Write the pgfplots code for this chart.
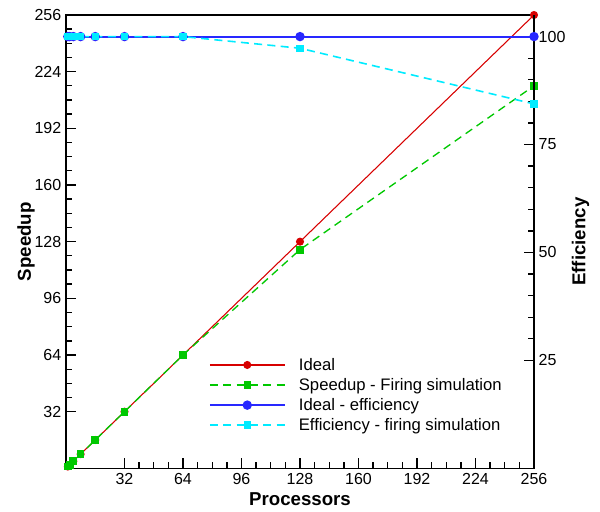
\documentclass[border=0pt]{standalone}
\usepackage{fontspec}
\setmainfont{Liberation Sans}
\usepackage{pgfplots}
\pgfplotsset{compat=1.18}
\definecolor{idealred}{RGB}{215,0,0}
\definecolor{simgreen}{RGB}{0,200,0}
\definecolor{effblue}{RGB}{40,40,255}
\definecolor{effcyan}{RGB}{0,235,255}

% speedup data
\pgfplotstableread{
p ideal sim
1 1 1
2 2 2
4 4 4
8 8 8
16 16 16
32 32 32
64 64 64
128 128 123.5
256 256 216
}\speeduptab
% efficiency data
\pgfplotstableread{
p ideal sim
1 100 100
2 100 100
4 100 100
8 100 100
16 100 100
32 100 100
64 100 100
128 100 97.3
256 100 84.4
}\efftab

\pgfplotsset{
  common/.style={
    scale only axis, width=351pt, height=340pt,
    xmin=0, xmax=256,
    tick align=inside,
    major tick length=7.5pt, minor tick length=4.5pt,
    every tick/.style={black, line width=1pt},
    tick label style={font=\fontsize{12}{14}\selectfont},
    label style={font=\fontsize{14}{16}\selectfont\bfseries},
    /pgf/number format/assume math mode=true,
  },
  legline/.style={
    legend image code/.code={
      \draw[mark repeat=2, mark phase=2, ##1]
        plot coordinates {(0pt,0pt) (28pt,0pt) (56pt,0pt)};
    }
  },
}

\begin{document}
\begin{tikzpicture}
\begin{axis}[
  common, name=main,
  ymin=0, ymax=256,
  xtick={32,64,...,256}, ytick={32,64,...,256},
  minor x tick num=3, minor y tick num=3,
  xtick pos=bottom, ytick pos=left,
  axis line style={black, line width=0.8pt},
  xlabel={Processors}, ylabel={Speedup},
  xlabel style={yshift=1pt},
  ylabel style={yshift=-7pt},
]
\addplot[idealred, line width=0.8pt, mark=*, mark size=2.6pt] table[x=p, y=ideal] {\speeduptab};
\addplot[simgreen, line width=1pt, dash pattern=on 6pt off 4pt, mark=square*, mark size=2.4pt,
  mark options={solid}] table[x=p, y=sim] {\speeduptab};
\end{axis}

\begin{axis}[
  common,
  ymin=0, ymax=105,
  axis x line=none, axis y line*=right,
  axis line style={black, line width=1pt},
  ytick={25,50,75,100}, minor y tick num=4,
  ylabel={Efficiency},
  ylabel style={yshift=2pt},
  clip=false,
  legend style={at={(rel axis cs:0.305,0.25)}, anchor=north west,
    draw=none, fill=none, inner sep=0pt, font=\fontsize{12.5}{14}\selectfont,
    row sep=0.5pt, cells={anchor=west},
    /tikz/every odd column/.append style={column sep=8pt}},
  legend cell align=left,
  legline,
]
\addlegendimage{idealred, line width=0.8pt, mark=*, mark size=2.6pt}
\addlegendentry{Ideal}
\addlegendimage{simgreen, line width=1pt, dash pattern=on 6pt off 4pt, mark=square*, mark size=2.2pt, mark options={solid}}
\addlegendentry{Speedup - Firing simulation}
\addplot[effblue, line width=1.4pt, mark=*, mark size=2.8pt] table[x=p, y=ideal] {\efftab};
\addlegendentry{Ideal - efficiency}
\addplot[effcyan, line width=1.2pt, dash pattern=on 6pt off 4pt, mark=square*, mark size=2.2pt,
  mark options={solid}] table[x=p, y=sim] {\efftab};
\addlegendentry{Efficiency - firing simulation}
\end{axis}

\pgfresetboundingbox
\path[use as bounding box] ([shift={(-49.5pt,-32pt)}]main.south west)
  rectangle ([shift={(49.5pt,11.25pt)}]main.north east);
\end{tikzpicture}
\end{document}
